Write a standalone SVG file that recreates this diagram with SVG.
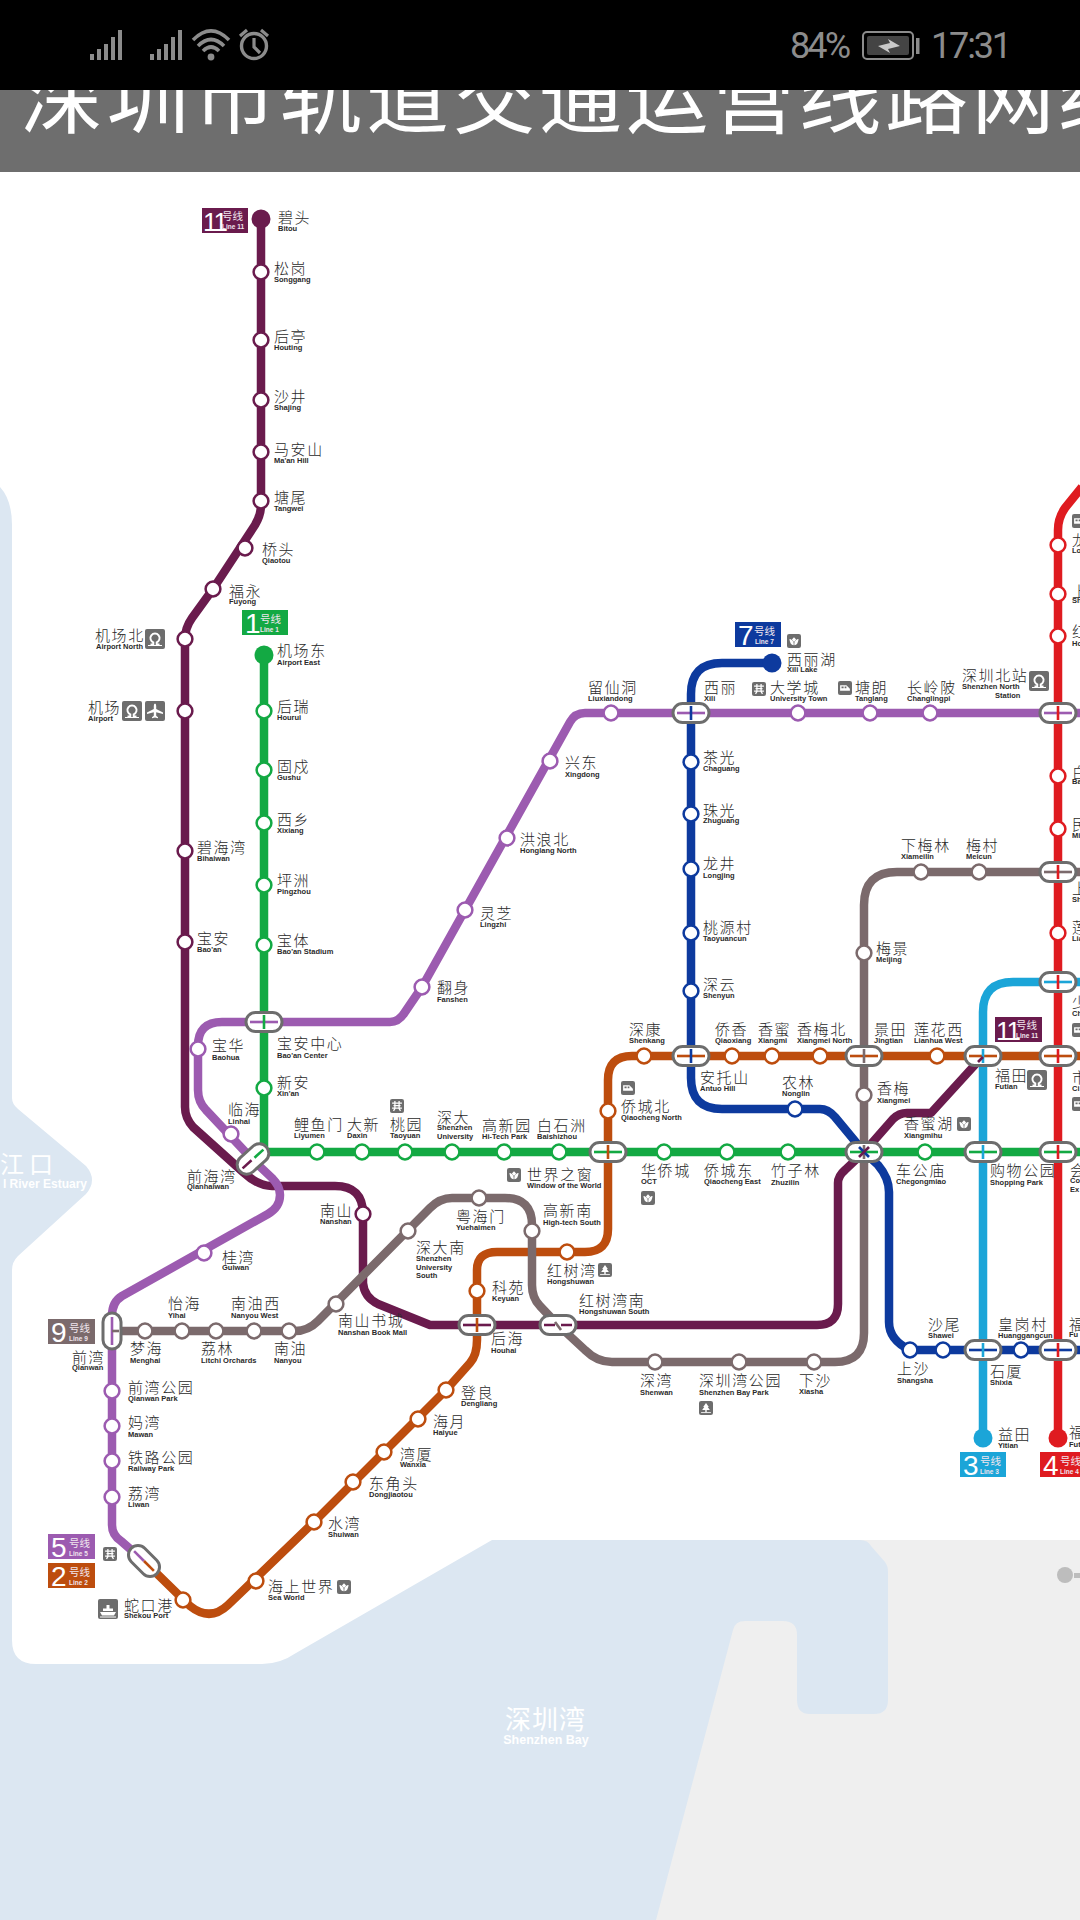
<svg xmlns="http://www.w3.org/2000/svg" width="1080" height="1920" viewBox="0 0 1080 1920">
<style>
text{font-family:"Noto Sans CJK SC","Liberation Sans",sans-serif}
.c{font-size:15px;letter-spacing:1.6px;fill:#2a2a2a;font-weight:300}
.e{font-family:"Liberation Sans",Arial,sans-serif;font-size:7.5px;font-weight:bold;fill:#2a2a2a}
.ln{fill:none;stroke-width:8.5;stroke-linejoin:round}
.st{fill:#fff;stroke-width:2.5;r:7.4px}
.cap{fill:#fff;stroke:#6d6d6d;stroke-width:3}
.in{fill:none;stroke-width:2.6}
.k11{stroke:#6a1b4d}.k1{stroke:#13a943}.k5{stroke:#9c5bb0}.k2{stroke:#bd4d0e}.k7{stroke:#0d3a9e}.k9{stroke:#7b6a6c}.k3{stroke:#1ba5d8}.k4{stroke:#df1b20}
.f11{fill:#6a1b4d}.f1{fill:#13a943}.f5{fill:#9c5bb0}.f2{fill:#bd4d0e}.f7{fill:#0d3a9e}.f9{fill:#7b6a6c}.f3{fill:#1ba5d8}.f4{fill:#df1b20}
.big{font-family:"Liberation Sans",Arial,sans-serif;font-size:28px;fill:#fff}
.hx{font-size:10.5px;fill:#f0e6ee}
.li{font-family:"Liberation Sans",Arial,sans-serif;font-size:6.5px;font-weight:bold;fill:#f0e6ee}
.sb{fill:#8c8c8c}
.sbt{font-family:Roboto,"Liberation Sans",sans-serif;font-size:36px;font-weight:400;fill:#8c8c8c}
</style>
<defs>
<symbol id="i-rail" viewBox="0 0 20 20"><rect width="20" height="20" rx="2" fill="#6d6d6d"/><path d="M5.5 15.5H8.3V13.4A4.6 4.6 0 1 1 11.7 13.4V15.5H14.5" fill="none" stroke="#fff" stroke-width="1.9"/><path d="M3 16.5H17" stroke="#fff" stroke-width="1"/></symbol>
<symbol id="i-plane" viewBox="0 0 20 20"><rect width="20" height="20" rx="2" fill="#6d6d6d"/><path d="M10 2.5Q11.2 2.5 11.2 5V8L18 11.5V13L11.2 11.3V14.8L13 16.2V17.2L10 16.4L7 17.2V16.2L8.8 14.8V11.3L2 13V11.5L8.8 8V5Q8.8 2.5 10 2.5Z" fill="#fff"/></symbol>
<symbol id="i-flower" viewBox="0 0 20 20"><rect width="20" height="20" rx="3" fill="#6d6d6d"/><path d="M10 4.5L13 8L10 11.5L7 8ZM3.5 7Q8 7.5 9.5 12.5V16Q4 15 3.5 7ZM16.5 7Q12 7.5 10.5 12.5V16Q16 15 16.5 7Z" fill="#fff"/></symbol>
<symbol id="i-tree" viewBox="0 0 20 20"><rect width="20" height="20" rx="3" fill="#6d6d6d"/><path d="M10 3L14 8.5H12.5L15.5 13H11V16H9V13H4.5L7.5 8.5H6Z" fill="#fff"/><path d="M3 16.5H17" stroke="#fff" stroke-width="1.2"/></symbol>
<symbol id="i-gate" viewBox="0 0 20 20"><rect width="20" height="20" rx="3" fill="#6d6d6d"/><path d="M3 6H17M5 9.5H15M7 3V14M13 3V14M3 13H17M5 17L7.5 13M15 17L12.5 13" stroke="#fff" stroke-width="1.8" fill="none"/></symbol>
<symbol id="i-train" viewBox="0 0 20 20"><rect width="20" height="20" rx="3" fill="#6d6d6d"/><path d="M3 6H12L17 11V14H3Z" fill="#fff"/><path d="M5 8H8V10.5H5ZM9.5 8H12V10.5H9.5Z" fill="#6d6d6d"/></symbol>
<symbol id="i-ship" viewBox="0 0 20 20"><rect width="20" height="20" rx="2" fill="#6d6d6d"/><path d="M2 13H18L16 16.5H4ZM5 12V9.5H8.5V6H11.5V9.5H15V12Z" fill="#fff"/><path d="M2 18H18" stroke="#fff"/></symbol>
<clipPath id="banner-clip"><rect y="90" width="1080" height="82"/></clipPath>
</defs>

<g id="background">
<rect width="1080" height="1920" fill="#fff"/>
<rect x="640" y="1540" width="440" height="380" fill="#efefef"/>
<path d="M0 487Q12 500 12 525V1098Q12 1104 18 1109L86 1166Q98 1180 86 1194L18 1256Q12 1262 12 1270V1640Q12 1664 36 1664H262Q280 1664 296 1653L492 1540H860Q868 1540 871 1546L885 1562Q888 1566 888 1572V1700Q888 1714 874 1714H810Q797 1714 797 1700V1635Q797 1621 783 1621H745Q735 1621 733 1630L656 1920H0Z" fill="#dce7f2"/>
<circle cx="1065" cy="1575" r="8" fill="#bdbdbd"/>
<rect x="1074" y="1573" width="6" height="5" fill="#bdbdbd"/>
<text x="0" y="1173" font-size="24" letter-spacing="5" fill="#fff">江口</text>
<text x="87" y="1188" text-anchor="end" style="font-family:'Liberation Sans',sans-serif;font-size:12px;font-weight:bold;fill:#fff">l River Estuary</text>
<text x="505" y="1729" font-size="26" letter-spacing="1" fill="#fff">深圳湾</text>
<text x="546" y="1744" text-anchor="middle" style="font-family:'Liberation Sans',sans-serif;font-size:12.5px;font-weight:bold;fill:#fff">Shenzhen Bay</text>
</g>

<g id="header">
<rect width="1080" height="90" fill="#000"/>
<rect y="90" width="1080" height="82" fill="#6e6e6e"/>
<text x="20" y="127" font-size="83" letter-spacing="3.5" fill="#fff" clip-path="url(#banner-clip)">深圳市轨道交通运营线路网络</text>
<g id="status-icons" class="sb">
<rect x="90" y="54" width="4" height="6"/><rect x="97" y="49" width="4" height="11"/><rect x="104" y="44" width="4" height="16"/><rect x="111" y="37" width="4" height="23"/><rect x="118" y="30" width="4" height="30"/>
<rect x="150" y="54" width="4" height="6"/><rect x="157" y="49" width="4" height="11"/><rect x="164" y="44" width="4" height="16"/><rect x="171" y="37" width="4" height="23"/><rect x="178" y="30" width="4" height="30"/>
<path d="M193 40Q211 22 229 40M198 46Q211 33 224 46M203 51Q211 43 219 51" fill="none" stroke="#8c8c8c" stroke-width="3.6"/>
<circle cx="211" cy="57" r="3.4"/>
<circle cx="254" cy="46" r="12.5" fill="none" stroke="#8c8c8c" stroke-width="3.4"/>
<path d="M254 38V47L260 53M240 36L247 30M268 36L261 30" fill="none" stroke="#8c8c8c" stroke-width="3.2"/>
</g>
<text class="sbt" x="790" y="58" textLength="61">84%</text>
<rect x="863" y="32" width="50" height="27" rx="4" fill="#000" stroke="#8c8c8c" stroke-width="2"/>
<rect x="867" y="36" width="42" height="19" rx="2" fill="#444"/>
<rect x="916" y="38" width="3.5" height="16" fill="#8c8c8c"/>
<path d="M878 46L890 43L888 39L900 46L888 49L890 53Z" fill="#c9c9c9"/>
<text class="sbt" x="931" y="58" textLength="81">17:31</text>
</g>

<g id="connectors">
<path id="line-4" class="ln k4" d="M1058 1438V530Q1058 518 1065 508L1082 487"/>
<path id="line-3" class="ln k3" d="M983 1438V1012Q983 982 1013 982H1080"/>
<path id="line-7" class="ln k7" d="M772 663H722Q691 663 691 694V1078Q691 1109 722 1109H820Q828 1109 835 1117L864 1152L878 1165Q889 1178 889 1192V1322Q889 1340 910 1350H1080"/>
<path id="line-11" class="ln k11" d="M261 219V505Q261 515 255 525L213 589L192 618Q185 628 185 639V1107Q185 1118 193 1127L243 1172Q258 1186 272 1186H335Q363 1186 363 1214V1283Q364 1297 378 1304L430 1325H817Q838 1325 838 1304V1183Q838 1176 845 1170L864 1152L893 1119Q899 1113 907 1113H931L983 1056"/>
<path id="line-5" class="ln k5" d="M1080 713H585Q575 713 570 722L422 987L405 1012Q399 1022 390 1022H222Q198 1022 198 1046V1090Q198 1102 206 1110L253 1160L272 1178Q280 1186 280 1195Q280 1207 268 1214L122 1296Q112 1302 112 1316V1525Q112 1535 121 1541L144 1561"/>
<path id="line-2" class="ln k2" d="M144 1561L190 1606Q210 1622 228 1605L314 1522L446 1390L470 1363Q477 1355 477 1340V1270Q477 1252 497 1252H585Q608 1252 608 1229V1080Q608 1056 632 1056H1080"/>
<path id="line-1" class="ln k1" d="M264 655V1152H1080"/>
<path id="line-9" class="ln k9" d="M112 1331H295Q308 1331 318 1321L430 1208Q440 1198 452 1198H505Q532 1198 532 1225V1285Q532 1298 540 1306L558 1325L585 1350Q597 1362 612 1362H835Q864 1362 864 1333V905Q864 872 897 872H1080"/>
</g>

<g id="line-tags">
<g id="tag-11a"><rect class="f11" x="202" y="208" width="46" height="25"/><text class="big" x="203" y="231" letter-spacing="-2" style="font-size:26px">11</text><text class="hx" x="222" y="220">号线</text><text class="li" x="222" y="229">Line 11</text></g>
<g id="tag-1"><rect class="f1" x="242" y="610" width="46" height="25"/><text class="big" x="245" y="633">1</text><text class="hx" x="260" y="623">号线</text><text class="li" x="260" y="632">Line 1</text></g>
<g id="tag-7"><rect class="f7" x="735" y="622" width="46" height="25"/><text class="big" x="738" y="645">7</text><text class="hx" x="754" y="635">号线</text><text class="li" x="755" y="644">Line 7</text></g>
<g id="tag-11b"><rect class="f11" x="995" y="1017" width="47" height="25"/><text class="big" x="996" y="1040" style="font-size:26px" letter-spacing="-2">11</text><text class="hx" x="1016" y="1029">号线</text><text class="li" x="1016" y="1038">Line 11</text></g>
<g id="tag-9"><rect class="f9" x="48" y="1319" width="47" height="25"/><text class="big" x="51" y="1342">9</text><text class="hx" x="69" y="1332">号线</text><text class="li" x="69" y="1341">Line 9</text></g>
<g id="tag-5"><rect class="f5" x="48" y="1534" width="47" height="25"/><text class="big" x="51" y="1557">5</text><text class="hx" x="69" y="1547">号线</text><text class="li" x="69" y="1556">Line 5</text></g>
<g id="tag-2"><rect class="f2" x="48" y="1563" width="47" height="25"/><text class="big" x="51" y="1586">2</text><text class="hx" x="69" y="1576">号线</text><text class="li" x="69" y="1585">Line 2</text></g>
<g id="tag-3"><rect class="f3" x="960" y="1452" width="46" height="25"/><text class="big" x="963" y="1475">3</text><text class="hx" x="980" y="1465">号线</text><text class="li" x="980" y="1474">Line 3</text></g>
<g id="tag-4"><rect class="f4" x="1040" y="1452" width="46" height="25"/><text class="big" x="1043" y="1475">4</text><text class="hx" x="1060" y="1465">号线</text><text class="li" x="1060" y="1474">Line 4</text></g>
</g>

<g id="icons">
<use href="#i-rail" x="145" y="629" width="20" height="20"/>
<use href="#i-rail" x="122" y="701" width="20" height="20"/>
<use href="#i-plane" x="145" y="701" width="20" height="20"/>
<use href="#i-gate" x="390" y="1099" width="14" height="14"/>
<use href="#i-flower" x="507" y="1168" width="14" height="14"/>
<use href="#i-tree" x="598" y="1263" width="14" height="14"/>
<use href="#i-train" x="621" y="1081" width="14" height="14"/>
<use href="#i-flower" x="641" y="1191" width="14" height="14"/>
<use href="#i-rail" x="1027" y="1070" width="20" height="20"/>
<use href="#i-flower" x="957" y="1117" width="14" height="14"/>
<use href="#i-gate" x="103" y="1547" width="14" height="14"/>
<use href="#i-ship" x="98" y="1599" width="20" height="20"/>
<use href="#i-flower" x="337" y="1580" width="14" height="14"/>
<use href="#i-tree" x="699" y="1401" width="14" height="14"/>
<use href="#i-flower" x="787" y="634" width="14" height="14"/>
<use href="#i-gate" x="752" y="682" width="14" height="14"/>
<use href="#i-train" x="838" y="681" width="14" height="14"/>
<use href="#i-rail" x="1029" y="671" width="20" height="20"/>
<use href="#i-train" x="1072" y="514" width="14" height="14"/>
<use href="#i-train" x="1072" y="1023" width="14" height="14"/>
<use href="#i-train" x="1072" y="1097" width="14" height="14"/>
</g>

<g id="line11-stations">
<g id="bitou"><circle class="f11" cx="261" cy="219" r="9.5"/><text class="c" x="278" y="223">碧头</text><text class="e" x="278" y="231">Bitou</text></g>
<g id="songgang"><circle class="st k11" cx="261" cy="272" r="7"/><text class="c" x="274" y="274">松岗</text><text class="e" x="274" y="282">Songgang</text></g>
<g id="houting"><circle class="st k11" cx="261" cy="340" r="7"/><text class="c" x="274" y="342">后亭</text><text class="e" x="274" y="350">Houting</text></g>
<g id="shajing"><circle class="st k11" cx="261" cy="400" r="7"/><text class="c" x="274" y="402">沙井</text><text class="e" x="274" y="410">Shajing</text></g>
<g id="maanshan"><circle class="st k11" cx="261" cy="452" r="7"/><text class="c" x="274" y="455">马安山</text><text class="e" x="274" y="463">Ma'an Hill</text></g>
<g id="tangwei"><circle class="st k11" cx="261" cy="501" r="7"/><text class="c" x="274" y="503">塘尾</text><text class="e" x="274" y="511">Tangwei</text></g>
<g id="qiaotou"><circle class="st k11" cx="245" cy="548" r="7"/><text class="c" x="262" y="555">桥头</text><text class="e" x="262" y="563">Qiaotou</text></g>
<g id="fuyong"><circle class="st k11" cx="213" cy="589" r="7"/><text class="c" x="229" y="597">福永</text><text class="e" x="229" y="604">Fuyong</text></g>
<g id="airport-north"><circle class="st k11" cx="185" cy="639" r="7"/><text class="c" x="95" y="641">机场北</text><text class="e" x="96" y="649">Airport North</text></g>
<g id="airport"><circle class="st k11" cx="185" cy="711" r="7"/><text class="c" x="88" y="713">机场</text><text class="e" x="88" y="721">Airport</text></g>
<g id="bihaiwan"><circle class="st k11" cx="185" cy="851" r="7"/><text class="c" x="197" y="853">碧海湾</text><text class="e" x="197" y="861">Bihaiwan</text></g>
<g id="baoan"><circle class="st k11" cx="185" cy="942" r="7"/><text class="c" x="197" y="944">宝安</text><text class="e" x="197" y="952">Bao'an</text></g>
<g id="nanshan"><circle class="st k11" cx="363" cy="1214" r="7"/><text class="c" x="320" y="1216">南山</text><text class="e" x="320" y="1224">Nanshan</text></g>
</g>

<g id="line1-stations">
<g id="airport-east"><circle class="f1" cx="264" cy="655" r="9.5"/><text class="c" x="277" y="656">机场东</text><text class="e" x="277" y="665">Airport East</text></g>
<g id="hourui"><circle class="st k1" cx="264" cy="711" r="7"/><text class="c" x="277" y="712">后瑞</text><text class="e" x="277" y="720">Hourui</text></g>
<g id="gushu"><circle class="st k1" cx="264" cy="770" r="7"/><text class="c" x="277" y="772">固戍</text><text class="e" x="277" y="780">Gushu</text></g>
<g id="xixiang"><circle class="st k1" cx="264" cy="823" r="7"/><text class="c" x="277" y="825">西乡</text><text class="e" x="277" y="833">Xixiang</text></g>
<g id="pingzhou"><circle class="st k1" cx="264" cy="885" r="7"/><text class="c" x="277" y="886">坪洲</text><text class="e" x="277" y="894">Pingzhou</text></g>
<g id="baoan-stadium"><circle class="st k1" cx="264" cy="945" r="7"/><text class="c" x="277" y="946">宝体</text><text class="e" x="277" y="954">Bao'an Stadium</text></g>
<g id="xinan"><circle class="st k1" cx="264" cy="1088" r="7"/><text class="c" x="277" y="1088">新安</text><text class="e" x="277" y="1096">Xin'an</text></g>
<g id="liyumen"><circle class="st k1" cx="317" cy="1152" r="7"/><text class="c" x="294" y="1130">鲤鱼门</text><text class="e" x="294" y="1138">Liyumen</text></g>
<g id="daxin"><circle class="st k1" cx="362" cy="1152" r="7"/><text class="c" x="347" y="1130">大新</text><text class="e" x="347" y="1138">Daxin</text></g>
<g id="taoyuan"><circle class="st k1" cx="405" cy="1152" r="7"/><text class="c" x="390" y="1130">桃园</text><text class="e" x="390" y="1138">Taoyuan</text></g>
<g id="shenzhen-univ"><circle class="st k1" cx="452" cy="1152" r="7"/><text class="c" x="437" y="1123">深大</text><text class="e" x="437" y="1130">Shenzhen</text><text class="e" x="437" y="1139">University</text></g>
<g id="hitech-park"><circle class="st k1" cx="504" cy="1152" r="7"/><text class="c" x="482" y="1131">高新园</text><text class="e" x="482" y="1139">Hi-Tech Park</text></g>
<g id="baishizhou"><circle class="st k1" cx="559" cy="1152" r="7"/><text class="c" x="537" y="1131">白石洲</text><text class="e" x="537" y="1139">Baishizhou</text></g>
<g id="window-world"><text class="c" x="527" y="1180">世界之窗</text><text class="e" x="527" y="1188">Window of the World</text></g>
<g id="oct"><circle class="st k1" cx="664" cy="1152" r="7"/><text class="c" x="641" y="1176">华侨城</text><text class="e" x="641" y="1184">OCT</text></g>
<g id="qiaocheng-east"><circle class="st k1" cx="727" cy="1152" r="7"/><text class="c" x="704" y="1176">侨城东</text><text class="e" x="704" y="1184">Qiaocheng East</text></g>
<g id="zhuzilin"><circle class="st k1" cx="788" cy="1152" r="7"/><text class="c" x="771" y="1176">竹子林</text><text class="e" x="771" y="1185">Zhuzilin</text></g>
<g id="chegongmiao"><circle class="st k1" cx="925" cy="1152" r="7"/><text class="c" x="896" y="1176">车公庙</text><text class="e" x="896" y="1184">Chegongmiao</text></g>
<g id="xiangmihu"><text class="c" x="904" y="1129">香蜜湖</text><text class="e" x="904" y="1138">Xiangmihu</text></g>
<g id="shopping-park"><text class="c" x="990" y="1176">购物公园</text><text class="e" x="990" y="1185">Shopping Park</text></g>
<g id="convention"><text class="c" x="1070" y="1176">会</text><text class="e" x="1070" y="1183">Co</text><text class="e" x="1070" y="1192">Ex</text></g>
</g>

<g id="line5-stations">
<g id="liuxiandong"><circle class="st k5" cx="611" cy="713" r="7"/><text class="c" x="588" y="693">留仙洞</text><text class="e" x="588" y="701">Liuxiandong</text></g>
<g id="xili"><text class="c" x="704" y="693">西丽</text><text class="e" x="704" y="701">Xili</text></g>
<g id="university-town"><circle class="st k5" cx="798" cy="713" r="7"/><text class="c" x="770" y="693">大学城</text><text class="e" x="770" y="701">University Town</text></g>
<g id="tanglang"><circle class="st k5" cx="870" cy="713" r="7"/><text class="c" x="855" y="693">塘朗</text><text class="e" x="855" y="701">Tanglang</text></g>
<g id="changlingpi"><circle class="st k5" cx="930" cy="713" r="7"/><text class="c" x="907" y="693">长岭陂</text><text class="e" x="907" y="701">Changlingpi</text></g>
<g id="shenzhen-north"><text class="c" x="962" y="681">深圳北站</text><text class="e" x="962" y="689">Shenzhen  North</text><text class="e" x="995" y="698">Station</text></g>
<g id="xingdong"><circle class="st k5" cx="550" cy="761" r="7"/><text class="c" x="565" y="768">兴东</text><text class="e" x="565" y="777">Xingdong</text></g>
<g id="honglang-north"><circle class="st k5" cx="507" cy="838" r="7"/><text class="c" x="520" y="845">洪浪北</text><text class="e" x="520" y="853">Honglang North</text></g>
<g id="lingzhi"><circle class="st k5" cx="465" cy="910" r="7"/><text class="c" x="480" y="919">灵芝</text><text class="e" x="480" y="927">Lingzhi</text></g>
<g id="fanshen"><circle class="st k5" cx="422" cy="987" r="7"/><text class="c" x="437" y="993">翻身</text><text class="e" x="437" y="1002">Fanshen</text></g>
<g id="baohua"><circle class="st k5" cx="198" cy="1049" r="7"/><text class="c" x="212" y="1051">宝华</text><text class="e" x="212" y="1060">Baohua</text></g>
<g id="linhai"><circle class="st k5" cx="231" cy="1134" r="7"/><text class="c" x="228" y="1115">临海</text><text class="e" x="228" y="1124">Linhai</text></g>
<g id="guiwan"><circle class="st k5" cx="204" cy="1253" r="7"/><text class="c" x="222" y="1263">桂湾</text><text class="e" x="222" y="1270">Guiwan</text></g>
<g id="qianwan-park"><circle class="st k5" cx="112" cy="1391" r="7"/><text class="c" x="128" y="1393">前湾公园</text><text class="e" x="128" y="1401">Qianwan Park</text></g>
<g id="mawan"><circle class="st k5" cx="112" cy="1426" r="7"/><text class="c" x="128" y="1428">妈湾</text><text class="e" x="128" y="1437">Mawan</text></g>
<g id="railway-park"><circle class="st k5" cx="112" cy="1461" r="7"/><text class="c" x="128" y="1463">铁路公园</text><text class="e" x="128" y="1471">Railway Park</text></g>
<g id="liwan"><circle class="st k5" cx="112" cy="1497" r="7"/><text class="c" x="128" y="1499">荔湾</text><text class="e" x="128" y="1507">Liwan</text></g>
</g>

<g id="line2-stations">
<g id="shekou-port"><circle class="st k2" cx="183" cy="1600" r="7"/><text class="c" x="124" y="1611">蛇口港</text><text class="e" x="124" y="1618">Shekou Port</text></g>
<g id="sea-world"><circle class="st k2" cx="256" cy="1581" r="7"/><text class="c" x="268" y="1592">海上世界</text><text class="e" x="268" y="1600">Sea World</text></g>
<g id="shuiwan"><circle class="st k2" cx="314" cy="1522" r="7"/><text class="c" x="328" y="1529">水湾</text><text class="e" x="328" y="1537">Shuiwan</text></g>
<g id="dongjiaotou"><circle class="st k2" cx="353" cy="1482" r="7"/><text class="c" x="369" y="1489">东角头</text><text class="e" x="369" y="1497">Dongjiaotou</text></g>
<g id="wanxia"><circle class="st k2" cx="384" cy="1452" r="7"/><text class="c" x="400" y="1460">湾厦</text><text class="e" x="400" y="1467">Wanxia</text></g>
<g id="haiyue"><circle class="st k2" cx="418" cy="1419" r="7"/><text class="c" x="433" y="1427">海月</text><text class="e" x="433" y="1435">Haiyue</text></g>
<g id="dengliang"><circle class="st k2" cx="446" cy="1390" r="7"/><text class="c" x="461" y="1398">登良</text><text class="e" x="461" y="1406">Dengliang</text></g>
<g id="keyuan"><circle class="st k2" cx="477" cy="1291" r="7"/><text class="c" x="492" y="1293">科苑</text><text class="e" x="492" y="1301">Keyuan</text></g>
<g id="hongshuwan"><circle class="st k2" cx="567" cy="1252" r="7"/><text class="c" x="547" y="1276">红树湾</text><text class="e" x="547" y="1284">Hongshuwan</text></g>
<g id="qiaocheng-north"><circle class="st k2" cx="608" cy="1111" r="7"/><text class="c" x="621" y="1112">侨城北</text><text class="e" x="621" y="1120">Qiaocheng North</text></g>
<g id="shenkang"><circle class="st k2" cx="644" cy="1056" r="7"/><text class="c" x="629" y="1035">深康</text><text class="e" x="629" y="1043">Shenkang</text></g>
<g id="qiaoxiang"><circle class="st k2" cx="732" cy="1056" r="7"/><text class="c" x="715" y="1035">侨香</text><text class="e" x="715" y="1043">Qiaoxiang</text></g>
<g id="xiangmi"><circle class="st k2" cx="772" cy="1056" r="7"/><text class="c" x="758" y="1035">香蜜</text><text class="e" x="758" y="1043">Xiangmi</text></g>
<g id="xiangmei-north"><circle class="st k2" cx="820" cy="1056" r="7"/><text class="c" x="797" y="1035">香梅北</text><text class="e" x="797" y="1043">Xiangmei North</text></g>
<g id="jingtian"><text class="c" x="874" y="1035">景田</text><text class="e" x="874" y="1043">Jingtian</text></g>
<g id="lianhua-west"><circle class="st k2" cx="937" cy="1056" r="7"/><text class="c" x="914" y="1035">莲花西</text><text class="e" x="914" y="1043">Lianhua West</text></g>
<g id="futian"><text class="c" x="995" y="1081">福田</text><text class="e" x="995" y="1089">Futian</text></g>
<g id="shimin"><text class="c" x="1072" y="1083">市</text><text class="e" x="1072" y="1091">Ci</text></g>
</g>

<g id="line7-stations">
<g id="xili-lake"><circle class="f7" cx="772" cy="663" r="9.5"/><text class="c" x="787" y="665">西丽湖</text><text class="e" x="787" y="672">Xili Lake</text></g>
<g id="chaguang"><circle class="st k7" cx="691" cy="762" r="7"/><text class="c" x="703" y="763">茶光</text><text class="e" x="703" y="771">Chaguang</text></g>
<g id="zhuguang"><circle class="st k7" cx="691" cy="814" r="7"/><text class="c" x="703" y="816">珠光</text><text class="e" x="703" y="823">Zhuguang</text></g>
<g id="longjing"><circle class="st k7" cx="691" cy="869" r="7"/><text class="c" x="703" y="869">龙井</text><text class="e" x="703" y="878">Longjing</text></g>
<g id="taoyuancun"><circle class="st k7" cx="691" cy="933" r="7"/><text class="c" x="703" y="933">桃源村</text><text class="e" x="703" y="941">Taoyuancun</text></g>
<g id="shenyun"><circle class="st k7" cx="691" cy="991" r="7"/><text class="c" x="703" y="990">深云</text><text class="e" x="703" y="998">Shenyun</text></g>
<g id="antuo-hill"><text class="c" x="700" y="1083">安托山</text><text class="e" x="700" y="1091">Antuo Hill</text></g>
<g id="nonglin"><circle class="st k7" cx="795" cy="1109" r="7"/><text class="c" x="782" y="1088">农林</text><text class="e" x="782" y="1096">Nonglin</text></g>
<g id="shangsha"><circle class="st k7" cx="910" cy="1350" r="7"/><text class="c" x="897" y="1374">上沙</text><text class="e" x="897" y="1383">Shangsha</text></g>
<g id="shawei"><circle class="st k7" cx="943" cy="1350" r="7"/><text class="c" x="928" y="1330">沙尾</text><text class="e" x="928" y="1338">Shawei</text></g>
<g id="shixia"><text class="c" x="990" y="1377">石厦</text><text class="e" x="990" y="1385">Shixia</text></g>
<g id="huanggangcun"><circle class="st k7" cx="1021" cy="1350" r="7"/><text class="c" x="998" y="1330">皇岗村</text><text class="e" x="998" y="1338">Huanggangcun</text></g>
<g id="futian-r"><text class="c" x="1069" y="1330">福</text><text class="e" x="1069" y="1337">Fu</text></g>
</g>

<g id="line9-stations">
<g id="qianwan"><text class="c" x="72" y="1363">前湾</text><text class="e" x="72" y="1370">Qianwan</text></g>
<g id="menghai"><circle class="st k9" cx="145" cy="1331" r="7"/><text class="c" x="130" y="1354">梦海</text><text class="e" x="130" y="1363">Menghai</text></g>
<g id="yihai"><circle class="st k9" cx="182" cy="1331" r="7"/><text class="c" x="168" y="1309">怡海</text><text class="e" x="168" y="1318">Yihai</text></g>
<g id="litchi"><circle class="st k9" cx="216" cy="1331" r="7"/><text class="c" x="201" y="1354">荔林</text><text class="e" x="201" y="1363">Litchi Orchards</text></g>
<g id="nanyou-west"><circle class="st k9" cx="254" cy="1331" r="7"/><text class="c" x="231" y="1309">南油西</text><text class="e" x="231" y="1318">Nanyou West</text></g>
<g id="nanyou"><circle class="st k9" cx="289" cy="1331" r="7"/><text class="c" x="274" y="1354">南油</text><text class="e" x="274" y="1363">Nanyou</text></g>
<g id="nanshan-book"><circle class="st k9" cx="336" cy="1304" r="7"/><text class="c" x="338" y="1326">南山书城</text><text class="e" x="338" y="1335">Nanshan Book Mall</text></g>
<g id="sz-univ-south"><circle class="st k9" cx="408" cy="1231" r="7"/><text class="c" x="416" y="1253">深大南</text><text class="e" x="416" y="1261">Shenzhen</text><text class="e" x="416" y="1270">University</text><text class="e" x="416" y="1278">South</text></g>
<g id="yuehaimen"><circle class="st k9" cx="479" cy="1198" r="7"/><text class="c" x="456" y="1222">粤海门</text><text class="e" x="456" y="1230">Yuehaimen</text></g>
<g id="hightech-south"><circle class="st k9" cx="532" cy="1231" r="7"/><text class="c" x="543" y="1216">高新南</text><text class="e" x="543" y="1225">High-tech South</text></g>
<g id="houhai"><text class="c" x="491" y="1344">后海</text><text class="e" x="491" y="1353">Houhai</text></g>
<g id="hongshuwan-south"><text class="c" x="579" y="1306">红树湾南</text><text class="e" x="579" y="1314">Hongshuwan South</text></g>
<g id="shenwan"><circle class="st k9" cx="655" cy="1362" r="7"/><text class="c" x="640" y="1386">深湾</text><text class="e" x="640" y="1395">Shenwan</text></g>
<g id="shenzhen-bay-park"><circle class="st k9" cx="739" cy="1362" r="7"/><text class="c" x="699" y="1386">深圳湾公园</text><text class="e" x="699" y="1395">Shenzhen Bay Park</text></g>
<g id="xiasha"><circle class="st k9" cx="814" cy="1362" r="7"/><text class="c" x="799" y="1386">下沙</text><text class="e" x="799" y="1394">Xiasha</text></g>
<g id="xiangmei"><circle class="st k9" cx="864" cy="1095" r="7"/><text class="c" x="877" y="1094">香梅</text><text class="e" x="877" y="1103">Xiangmei</text></g>
<g id="meijing"><circle class="st k9" cx="864" cy="953" r="7"/><text class="c" x="876" y="954">梅景</text><text class="e" x="876" y="962">Meijing</text></g>
<g id="xiameilin"><circle class="st k9" cx="921" cy="872" r="7"/><text class="c" x="901" y="851">下梅林</text><text class="e" x="901" y="859">Xiameilin</text></g>
<g id="meicun"><circle class="st k9" cx="979" cy="872" r="7"/><text class="c" x="966" y="851">梅村</text><text class="e" x="966" y="859">Meicun</text></g>
</g>

<g id="line3-stations">
<g id="yitian"><circle class="f3" cx="983" cy="1438" r="9.5"/><text class="c" x="998" y="1440">益田</text><text class="e" x="998" y="1448">Yitian</text></g>
</g>

<g id="line4-stations">
<g id="futian-checkpoint"><circle class="f4" cx="1058" cy="1438" r="9.5"/><text class="c" x="1069" y="1438">福</text><text class="e" x="1069" y="1447">Fut</text></g>
<g id="s4a"><circle class="st k4" cx="1058" cy="545" r="7"/><text class="c" x="1072" y="546">龙</text><text class="e" x="1072" y="553">Lo</text></g>
<g id="s4b"><circle class="st k4" cx="1058" cy="594" r="7"/><text class="c" x="1072" y="597">上</text><text class="e" x="1072" y="603">Sh</text></g>
<g id="s4c"><circle class="st k4" cx="1058" cy="636" r="7"/><text class="c" x="1072" y="637">红</text><text class="e" x="1072" y="646">Ho</text></g>
<g id="s4d"><circle class="st k4" cx="1058" cy="776" r="7"/><text class="c" x="1072" y="778">白</text><text class="e" x="1072" y="784">Ba</text></g>
<g id="s4e"><circle class="st k4" cx="1058" cy="829" r="7"/><text class="c" x="1072" y="830">民</text><text class="e" x="1072" y="838">Mi</text></g>
<g id="s4f"><text class="c" x="1072" y="894">上</text><text class="e" x="1072" y="902">Sh</text></g>
<g id="s4g"><circle class="st k4" cx="1058" cy="933" r="7"/><text class="c" x="1072" y="933">莲</text><text class="e" x="1072" y="941">Lia</text></g>
<g id="s4h"><text class="c" x="1072" y="1008">少</text><text class="e" x="1072" y="1016">Ch</text></g>
</g>

<g id="interchanges">
<g id="x-baoan-center" transform="translate(264,1022)"><rect class="cap" x="-18" y="-9.5" width="36" height="19" rx="9.5"/><path class="in k5" d="M-14 0H14"/><path class="in k1" d="M0-7V7"/></g>
<g id="x-baoan-c-label"><text class="c" x="277" y="1049">宝安中心</text><text class="e" x="277" y="1058">Bao'an Center</text></g>
<g id="x-qianhaiwan" transform="translate(253,1159) rotate(-42)"><rect class="cap" x="-18" y="-9.5" width="36" height="19" rx="9.5"/><path class="in k1" d="M2 0H14"/><path class="in k11" d="M-14 0H-2"/></g>
<g id="x-qianhaiwan-label"><text class="c" x="187" y="1182">前海湾</text><text class="e" x="187" y="1189">Qianhaiwan</text></g>
<g id="x-608-1152" transform="translate(608,1152)"><rect class="cap" x="-18" y="-9.5" width="36" height="19" rx="9.5"/><path class="in k1" d="M-14 0H14"/><path class="in k2" d="M0-7V7"/></g>
<g id="x-qianwan" transform="translate(112,1331)"><rect class="cap" x="-9" y="-18" width="18" height="36" rx="9"/><path class="in k5" d="M0-14V14"/><path class="in k9" d="M0 0H7"/></g>
<g id="x-chiwan" transform="translate(144,1561) rotate(45)"><rect class="cap" x="-18" y="-9.5" width="36" height="19" rx="9.5"/><path class="in k5" d="M-14 0H0"/><path class="in k2" d="M0 0H14"/></g>
<g id="x-houhai" transform="translate(477,1325)"><rect class="cap" x="-18" y="-9.5" width="36" height="19" rx="9.5"/><path class="in k11" d="M-14 0H14"/><path class="in k2" d="M0-7V7"/></g>
<g id="x-hongshuwan-s" transform="translate(558,1325)"><rect class="cap" x="-18" y="-9.5" width="36" height="19" rx="9.5"/><path class="in k11" d="M-14 0H-3M3 0H14"/><path class="in k9" d="M-3-3L3 5"/></g>
<g id="x-xili" transform="translate(691,713)"><rect class="cap" x="-18" y="-9.5" width="36" height="19" rx="9.5"/><path class="in k5" d="M-14 0H14"/><path class="in k7" d="M0-7V7"/></g>
<g id="x-antuo" transform="translate(691,1056)"><rect class="cap" x="-18" y="-9.5" width="36" height="19" rx="9.5"/><path class="in k2" d="M-14 0H14"/><path class="in k7" d="M0-7V7"/></g>
<g id="x-jingtian" transform="translate(864,1056)"><rect class="cap" x="-18" y="-9.5" width="36" height="19" rx="9.5"/><path class="in k2" d="M-14 0H14"/><path class="in k9" d="M0-7V7"/></g>
<g id="x-futian" transform="translate(983,1056)"><rect class="cap" x="-18" y="-9.5" width="36" height="19" rx="9.5"/><path class="in k2" d="M-14 0H14"/><path class="in k3" d="M0-7V7"/><path class="in k11" d="M-5 6L0 1"/></g>
<g id="x-1058-1056" transform="translate(1058,1056)"><rect class="cap" x="-18" y="-9.5" width="36" height="19" rx="9.5"/><path class="in k2" d="M-14 0H14"/><path class="in k4" d="M0-7V7"/></g>
<g id="x-chegong" transform="translate(864,1152)"><rect class="cap" x="-18" y="-9.5" width="36" height="19" rx="9.5"/><path class="in k1" d="M-14 0H14"/><path class="in k9" d="M0-7V7"/><path class="in k7" d="M-5-5L5 5"/><path class="in k11" d="M-5 5L5-5"/></g>
<g id="x-983-1152" transform="translate(983,1152)"><rect class="cap" x="-18" y="-9.5" width="36" height="19" rx="9.5"/><path class="in k1" d="M-14 0H14"/><path class="in k3" d="M0-7V7"/></g>
<g id="x-1058-1152" transform="translate(1058,1152)"><rect class="cap" x="-18" y="-9.5" width="36" height="19" rx="9.5"/><path class="in k1" d="M-14 0H14"/><path class="in k4" d="M0-7V7"/></g>
<g id="x-1058-713" transform="translate(1058,713)"><rect class="cap" x="-18" y="-9.5" width="36" height="19" rx="9.5"/><path class="in k5" d="M-14 0H14"/><path class="in k4" d="M0-7V7"/></g>
<g id="x-1058-872" transform="translate(1058,872)"><rect class="cap" x="-18" y="-9.5" width="36" height="19" rx="9.5"/><path class="in k9" d="M-14 0H14"/><path class="in k4" d="M0-7V7"/></g>
<g id="x-1058-982" transform="translate(1058,982)"><rect class="cap" x="-18" y="-9.5" width="36" height="19" rx="9.5"/><path class="in k3" d="M-14 0H14"/><path class="in k4" d="M0-7V7"/></g>
<g id="x-983-1350" transform="translate(983,1350)"><rect class="cap" x="-18" y="-9.5" width="36" height="19" rx="9.5"/><path class="in k7" d="M-14 0H14"/><path class="in k3" d="M0-7V7"/></g>
<g id="x-1058-1350" transform="translate(1058,1350)"><rect class="cap" x="-18" y="-9.5" width="36" height="19" rx="9.5"/><path class="in k7" d="M-14 0H14"/><path class="in k4" d="M0-7V7"/></g>
</g>
</svg>
